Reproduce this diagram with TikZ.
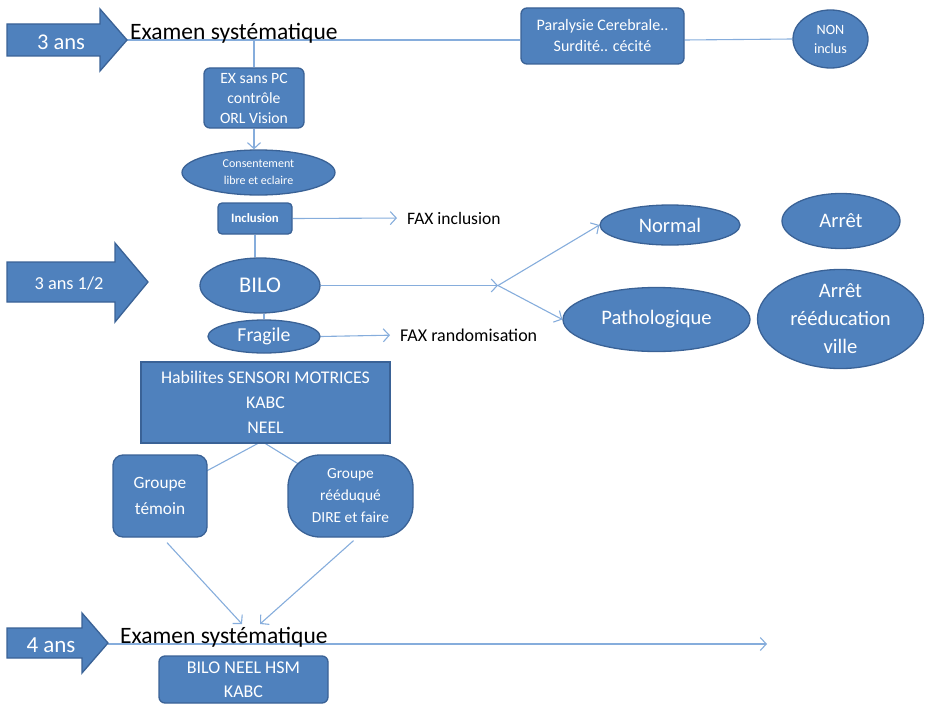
\documentclass[tikz,border=0pt]{standalone}
\usepackage{fontspec}
\setmainfont{Carlito}
\usetikzlibrary{arrows.meta,shapes.geometric,calc}
\definecolor{fillb}{HTML}{4F81BD}
\definecolor{edgeb}{HTML}{3A6296}
\definecolor{lineblue}{HTML}{86ADDC}
\pgfdeclarelayer{bg}
\pgfsetlayers{bg,main}
\begin{document}
\begin{tikzpicture}[x=1pt,y=-1pt,
  shapebase/.style={fill=fillb,draw=edgeb,line width=1.3pt,text=white,align=center,inner sep=0pt},
  rbox/.style={shapebase,rectangle,rounded corners=6pt},
  sbox/.style={shapebase,rectangle},
  ell/.style={shapebase,ellipse},
  conn/.style={draw=lineblue,line width=1.1pt},
  arr/.style={conn,-{Straight Barb[length=6pt,width=13pt,line width=1.1pt]}},
  fs/.style args={#1/#2}{font=\fontsize{#1}{#2}\selectfont},
  lbl/.style={text=black,inner sep=0pt},
  wlbl/.style={text=white,inner sep=0pt}]
\useasboundingbox (0,0) rectangle (925,706);

% block arrows
\filldraw[shapebase] (7,24) -- (100,24) -- (100,9) -- (127,40) -- (100,71) -- (100,56) -- (7,56) -- cycle;
\node[wlbl, fs=22.5/26] (a3) at (61,42.5) {3 ans};
\coordinate (tipA) at (127,40);
\filldraw[shapebase] (7,262) -- (115,262) -- (115,243) -- (148,282) -- (115,322) -- (115,302) -- (7,302) -- cycle;
\node[wlbl, fs=18.3/21] (a35) at (69,284) {3 ans 1/2};
\filldraw[shapebase] (7,628) -- (82,628) -- (82,613) -- (108,643) -- (82,673) -- (82,658) -- (7,658) -- cycle;
\node[wlbl, fs=23/26] (a4) at (51,645) {4 ans};
\coordinate (tipC) at (108,644);

% top row
\node[lbl, anchor=base west, fs=23.5/28] (exam1) at (130,40) {Examen systématique};
\node[rbox, minimum width=163pt, minimum height=56pt, fs=16/21] (para) at (602.5,36) {Paralysie Cerebrale..\\Surdité.. cécité};
\node[ell, minimum width=75pt, minimum height=58pt, fs=14.2/19] (non) at (830.5,39) {NON\\inclus};
\node[rbox, minimum width=100pt, minimum height=60pt, fs=15.7/20] (ex) at (254,98) {EX sans PC\\contrôle\\ORL Vision};
\node[ell, minimum width=153pt, minimum height=45pt, fs=12/17] (cons) at (258.5,172.5) {Consentement\\libre et eclaire};
\node[rbox, rounded corners=4pt, minimum width=74pt, minimum height=31pt, fs=12.8/14] (incl) at (255,218.5) {\bfseries Inclusion};
\node[lbl, anchor=west, fs=17.5/20] (faxi) at (407,218) {FAX inclusion};

% middle
\node[ell, minimum width=120pt, minimum height=55pt, fs=22.5/26] (bilo) at (260,285.5) {BILO};
\coordinate (junc) at (498,285.5);
\node[ell, minimum width=140pt, minimum height=40pt, fs=20.6/24] (normal) at (670,225) {Normal};
\node[ell, minimum width=187pt, minimum height=64pt, fs=20.6/24] (patho) at (656.5,319.5) {Pathologique};
\node[ell, minimum width=118pt, minimum height=55pt, fs=20.6/24] (arret) at (841,221) {Arrêt};
\node[ell, minimum width=166pt, minimum height=95pt, fs=20.6/28] (arretr) at (840.5,319) {Arrêt\\rééducation\\ville};
\node[ell, minimum width=112pt, minimum height=33pt, fs=19.7/22] (frag) at (264,336.5) {Fragile};
\node[lbl, anchor=west, fs=18/20] (faxr) at (400,335) {FAX randomisation};
\node[sbox, minimum width=249pt, minimum height=81pt, fs=17.8/25] (hab) at (265.5,402.5) {Habilites SENSORI MOTRICES\\KABC\\NEEL};
\node[rbox, rounded corners=10pt, minimum width=94pt, minimum height=82pt, fs=17.3/26] (temoin) at (160,496) {Groupe\\témoin};
\node[rbox, rounded corners=32pt, minimum width=125pt, minimum height=82pt, fs=15.4/22] (reed) at (350.5,496) {Groupe\\rééduqué\\DIRE et faire};

% bottom
\node[lbl, anchor=base west, fs=23.5/28] (exam2) at (120,643) {Examen systématique};
\node[rbox, minimum width=169pt, minimum height=47pt, fs=18/24] (bnh) at (243.5,679.5) {BILO NEEL HSM\\KABC};
\coordinate (endC) at (767,644);
\coordinate (tip1) at (242,624);
\coordinate (tip2) at (260,624);

\begin{pgfonlayer}{bg}
\draw[conn] (tipA) -- (tipA -| para.west);
\draw[conn] (para.east |- tipA) -- (non.west);
\draw[conn] (ex.north |- tipA) -- (ex.north);
\draw[arr] (ex.south) -- (ex.south |- cons.north);
\draw[arr, shorten >=10pt] (incl.east) -- (faxi.west);
\draw[conn] (incl.south) -- (incl.south |- bilo.north);
\draw[arr] (bilo.east) -- (junc);
\draw[arr] (junc) -- (normal.west);
\draw[arr] (junc) -- (patho.west);
\draw[conn] (frag.north |- bilo.south) -- (frag.north);
\draw[arr, shorten >=10pt] (frag.east) -- (faxr.west);
\draw[conn] ([xshift=-8pt]hab.south) -- (temoin.center);
\draw[conn] (hab.south) -- (reed.center);
\draw[arr] ([xshift=7pt,yshift=-5pt]temoin.south) -- (tip1);
\draw[arr] ([xshift=3pt,yshift=-3pt]reed.south) -- (tip2);
\draw[arr] (tipC) -- (endC);
\end{pgfonlayer}
\end{tikzpicture}
\end{document}
